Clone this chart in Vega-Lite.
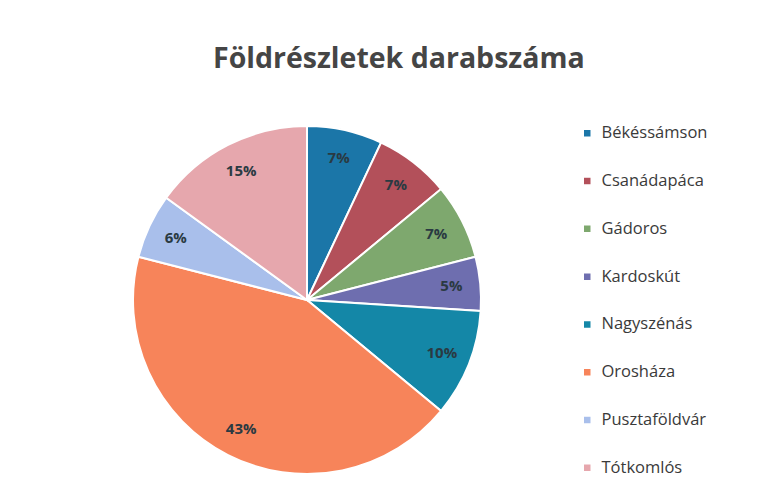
{
  "$schema": "https://vega.github.io/schema/vega-lite/v6.json",
  "width": 350,
  "height": 350,
  "padding": {"left": 129, "top": 44, "right": 10, "bottom": 6},
  "background": "white",
  "title": {
    "text": "Földrészletek darabszáma",
    "fontSize": 28.5,
    "font": "Open Sans",
    "fontWeight": "bold",
    "color": "#454545",
    "anchor": "start",
    "dx": 84,
    "offset": 49
  },
  "data": {
    "values": [
      {"telepules": "Békéssámson", "value": 0.07, "order": 1},
      {"telepules": "Csanádapáca", "value": 0.07, "order": 2},
      {"telepules": "Gádoros", "value": 0.07, "order": 3},
      {"telepules": "Kardoskút", "value": 0.05, "order": 4},
      {"telepules": "Nagyszénás", "value": 0.10, "order": 5},
      {"telepules": "Orosháza", "value": 0.43, "order": 6},
      {"telepules": "Pusztaföldvár", "value": 0.06, "order": 7},
      {"telepules": "Tótkomlós", "value": 0.15, "order": 8}
    ]
  },
  "encoding": {
    "theta": {"field": "value", "type": "quantitative", "stack": true},
    "order": {"field": "order", "type": "quantitative"}
  },
  "layer": [
    {
      "mark": {"type": "arc", "outerRadius": 174, "stroke": "white", "strokeWidth": 2},
      "encoding": {
        "color": {
          "field": "telepules",
          "type": "nominal",
          "sort": null,
          "scale": {
            "domain": ["Békéssámson", "Csanádapáca", "Gádoros", "Kardoskút", "Nagyszénás", "Orosháza", "Pusztaföldvár", "Tótkomlós"],
            "range": ["#1b76a8", "#b3505a", "#7ea86e", "#6e6eaf", "#1487a7", "#f7845a", "#a9bfeb", "#e6a7ad"]
          },
          "legend": {
            "title": null,
            "orient": "right",
            "offset": 97,
            "symbolType": "square",
            "symbolSize": 64,
            "labelFontSize": 16.5,
            "labelFont": "Open Sans",
            "labelColor": "#3a3a3a",
            "rowPadding": 30.8,
            "labelOffset": 6
          }
        }
      }
    },
    {
      "mark": {"type": "text", "radius": 145, "fontSize": 15, "font": "Open Sans", "fontWeight": "bold"},
      "encoding": {
        "text": {"field": "value", "type": "quantitative", "format": ".0%"},
        "color": {"value": "#2a3a42"}
      }
    }
  ],
  "config": {"view": {"stroke": null}}
}
